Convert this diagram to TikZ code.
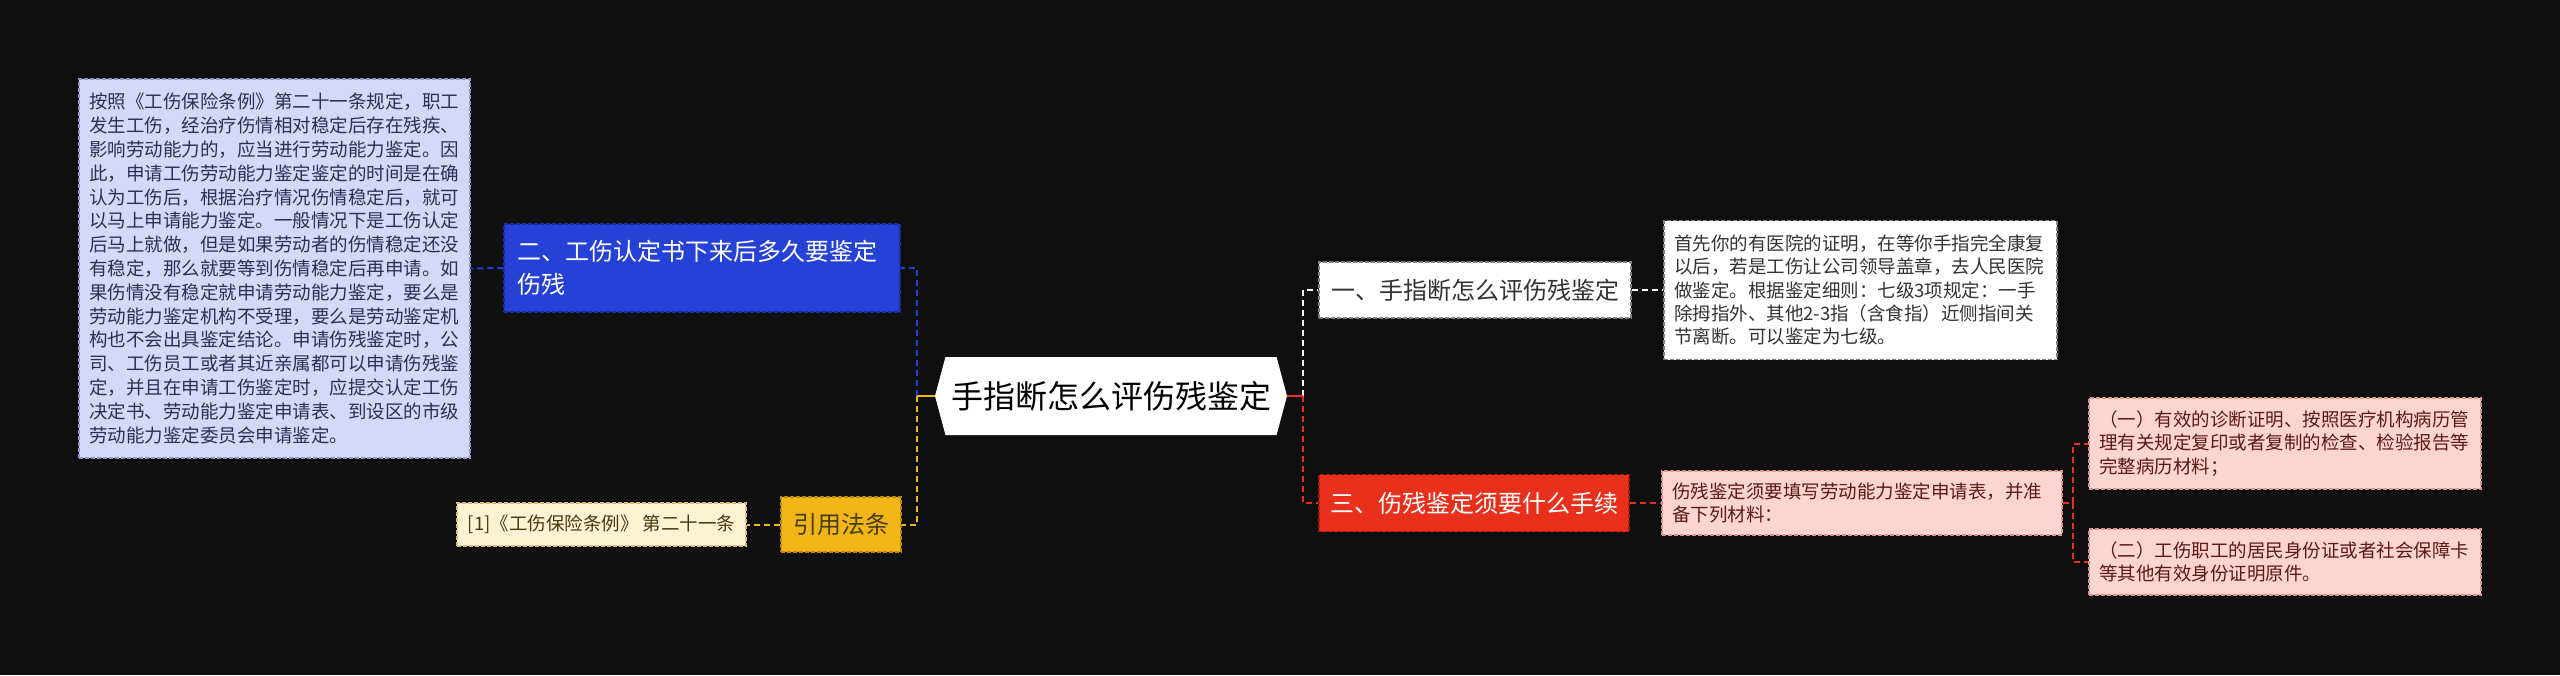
\documentclass[tikz,border=0pt]{standalone}
\usepackage{fontspec}
\setmainfont{Noto Sans CJK SC}
\usepackage{tikz}
\usetikzlibrary{
  shapes.symbols,%
  positioning
}
\definecolor{bgdark}{HTML}{0F0F0F}
\definecolor{mapblue}{HTML}{2541D6}
\definecolor{mapbluedk}{HTML}{1A2C9E}
\definecolor{lavender}{HTML}{D5D9F7}
\definecolor{lavenderdk}{HTML}{9096C8}
\definecolor{navytext}{HTML}{2B2F55}
\definecolor{mapyellow}{HTML}{F0B616}
\definecolor{mapyellowdk}{HTML}{B88800}
\definecolor{cream}{HTML}{FDF2D3}
\definecolor{creamdk}{HTML}{D2BE86}
\definecolor{browntext}{HTML}{4A3A10}
\definecolor{mapred}{HTML}{E8301C}
\definecolor{mapreddk}{HTML}{A81A0C}
\definecolor{pink}{HTML}{FDD5D0}
\definecolor{pinkdk}{HTML}{D89590}
\definecolor{redtext}{HTML}{5A1A14}
\definecolor{graytext}{HTML}{333333}
\tikzset{
  box/.style={dash pattern=on 4pt off 2pt, line width=1.2pt, anchor=center,
    inner ysep=0pt},
  small/.style={box, inner xsep=10pt, align=left,
    font=\fontsize{18.5}{23.3}\selectfont},
  branch/.style={box, inner xsep=13pt, font=\fontsize{24}{32.7}\selectfont},
  link/.style={line width=2pt, dash pattern=on 6pt off 4pt},
  stub/.style={line width=2pt}
}
\begin{document}
\begin{tikzpicture}[x=1pt,y=-1pt]
  \fill[bgdark] (0,0) rectangle (2560,675);
  \useasboundingbox (0,0) rectangle (2560,675);
  % root
  \node[signal, signal to=west and east, signal pointer angle=150,
    fill=white, minimum width=352, minimum height=78, inner sep=0pt,
    font=\fontsize{32}{36}\selectfont, text=black] (root) at (1111,396)
    {手指断怎么评伤残鉴定};
  \coordinate (lfork) at (917,396);
  \coordinate (rfork) at (1303,396);
  % left side
  \node[branch, fill=mapblue, draw=mapbluedk, text=white, align=left,
    text width=370, minimum width=396, minimum height=88] (two) at (702,268)
    {二、工伤认定书下来后多久要鉴定\\伤残};
  \node[small, fill=lavender, draw=lavenderdk, text=navytext,
    font=\fontsize{18.5}{23.8}\selectfont,
    text width=371, minimum width=391, minimum height=379] (twotxt) at (274.5,268.5)
    {按照《工伤保险条例》第二十一条规定，职工\\
     发生工伤，经治疗伤情相对稳定后存在残疾、\\
     影响劳动能力的，应当进行劳动能力鉴定。因\\
     此，申请工伤劳动能力鉴定鉴定的时间是在确\\
     认为工伤后，根据治疗情况伤情稳定后，就可\\
     以马上申请能力鉴定。一般情况下是工伤认定\\
     后马上就做，但是如果劳动者的伤情稳定还没\\
     有稳定，那么就要等到伤情稳定后再申请。如\\
     果伤情没有稳定就申请劳动能力鉴定，要么是\\
     劳动能力鉴定机构不受理，要么是劳动鉴定机\\
     构也不会出具鉴定结论。申请伤残鉴定时，公\\
     司、工伤员工或者其近亲属都可以申请伤残鉴\\
     定，并且在申请工伤鉴定时，应提交认定工伤\\
     决定书、劳动能力鉴定申请表、到设区的市级\\
     劳动能力鉴定委员会申请鉴定。};
  \node[branch, fill=mapyellow, draw=mapyellowdk, text=browntext,
    minimum width=120, minimum height=55, inner xsep=0pt] (law) at (841,524.5)
    {引用法条};
  \node[small, fill=cream, draw=creamdk, text=browntext, inner xsep=0pt,
    minimum width=289, minimum height=43] (lawtxt) at (601.5,524.5)
    {[1]《工伤保险条例》 第二十一条};
  % right side
  \node[branch, fill=white, draw=gray, text=graytext,
    minimum width=312, minimum height=56, inner xsep=0pt] (one) at (1475,290)
    {一、手指断怎么评伤残鉴定};
  \node[small, fill=white, draw=gray, text=graytext,
    text width=373, minimum width=393, minimum height=139] (onetxt) at (1860.5,290)
    {首先你的有医院的证明，在等你手指完全康复\\
     以后，若是工伤让公司领导盖章，去人民医院\\
     做鉴定。根据鉴定细则：七级3项规定：一手\\
     除拇指外、其他2-3指（含食指）近侧指间关\\
     节离断。可以鉴定为七级。};
  \node[branch, fill=mapred, draw=mapreddk, text=white,
    minimum width=310, minimum height=57, inner xsep=0pt] (three) at (1474,503)
    {三、伤残鉴定须要什么手续};
  \node[small, fill=pink, draw=pinkdk, text=redtext,
    text width=380, minimum width=400, minimum height=64] (threetxt) at (1862,503)
    {伤残鉴定须要填写劳动能力鉴定申请表，并准\\
     备下列材料：};
  \coordinate (sfork) at (2073,503);
  \node[small, fill=pink, draw=pinkdk, text=redtext,
    text width=372, minimum width=392, minimum height=91] (item1) at (2285,443.5)
    {（一）有效的诊断证明、按照医疗机构病历管\\
     理有关规定复印或者复制的检查、检验报告等\\
     完整病历材料；};
  \node[small, fill=pink, draw=pinkdk, text=redtext,
    text width=372, minimum width=392, minimum height=66] (item2) at (2285,562)
    {（二）工伤职工的居民身份证或者社会保障卡\\
     等其他有效身份证明原件。};
  % connectors
  \draw[link, mapblue] (lfork) |- (two.east);
  \draw[link, mapblue] (two.west) -- (twotxt.east);
  \draw[link, mapyellow] (lfork) |- (law.east);
  \draw[link, mapyellow] (law.west) -- (lawtxt.east);
  \draw[stub, mapyellow] (root.west) -- (lfork);
  \draw[link, white] (rfork) |- (one.west);
  \draw[link, white] (one.east) -- (onetxt.west);
  \draw[link, mapred] (rfork) |- (three.west);
  \draw[link, mapred] (three.east) -- (threetxt.west);
  \draw[stub, mapred] (root.east) -- (rfork);
  \draw[link, mapred] (threetxt.east) -- (sfork);
  \foreach \s in {item1,item2}
    \draw[link, mapred] (sfork) |- (\s.west);
\end{tikzpicture}
\end{document}
